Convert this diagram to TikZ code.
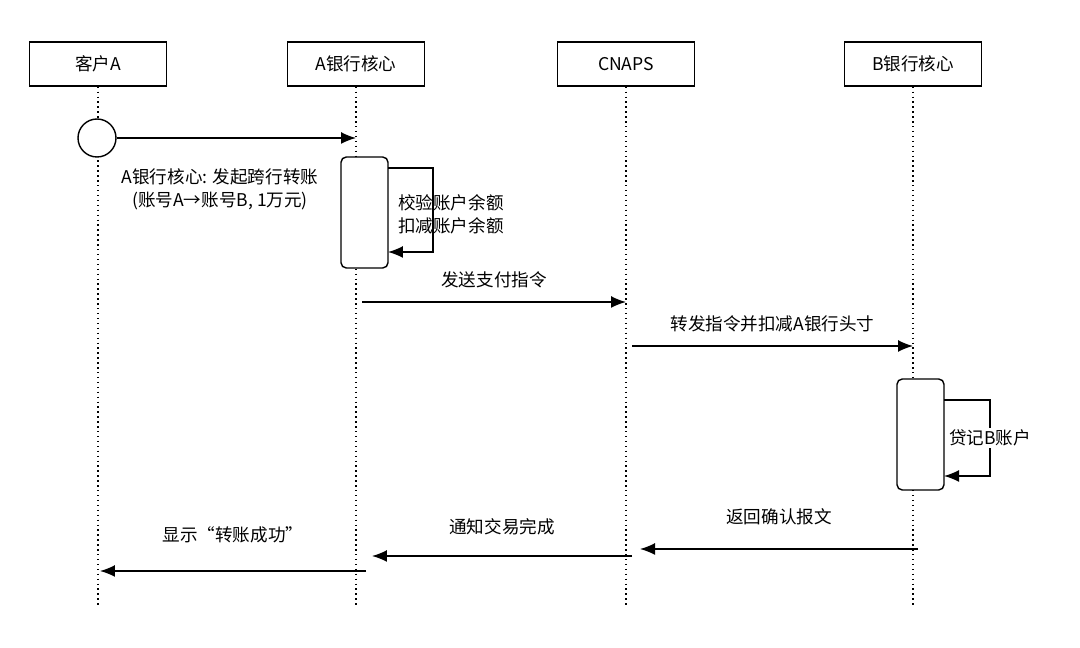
\documentclass[tikz,border=0pt]{standalone}
\usepackage{fontspec}
\setmainfont{Noto Sans CJK SC}
\usetikzlibrary{arrows.meta}

\begin{document}
\begin{tikzpicture}[x=0.02cm,y=-0.02cm,
    font=\fontsize{10}{13}\selectfont,
    head/.style={draw,thick,minimum width=2.74cm,minimum height=0.88cm},
    life/.style={thick,dotted},
    msg/.style={thick,-{Latex[length=3mm,width=2.4mm]}},
    act/.style={draw,thick,fill=white,rounded corners=3pt,minimum width=0.94cm}]
    \useasboundingbox (0,0) rectangle (1080,648);

    % Participants
    \node[head] (ca) at (98,64) {客户A};
    \node[head] (ba) at (356,64) {A银行核心};
    \node[head] (cn) at (626,64) {CNAPS};
    \node[head] (bb) at (913,64) {B银行核心};

    % Lifelines
    \foreach \p/\x in {ca/98,ba/356,cn/626,bb/913}
        \draw[life] (\p.south) -- (\x,605);

    % Start
    \node[draw,thick,fill=white,circle,minimum size=0.76cm] (st) at (97,138) {};
    \coordinate (bin) at (356,138);
    \draw[msg] (st) -- (bin);
    \node[align=center] (lst) at (220,189) {A银行核心: 发起跨行转账\\(账号A→账号B, 1万元)};

    % Activation at A
    \node[act,minimum height=2.22cm] (aa) at (364.5,212.5) {};
    \coordinate (a1) at (388,168);
    \coordinate (a2) at (388,252);
    \draw[msg] (a1) -| (433,252) -- (a2);
    \node[align=left,anchor=west] (lchk) at (392,214) {校验账户余额\\扣减账户余额};

    % Payment order
    \coordinate (p1) at (362,302);
    \coordinate (p2) at (626,302);
    \draw[msg] (p1) -- node[above=4pt] {发送支付指令} (p2);

    \coordinate (f1) at (632,346);
    \coordinate (f2) at (913,346);
    \draw[msg] (f1) -- node[above=4pt] {转发指令并扣减A银行头寸} (f2);

    % Activation at B
    \node[act,minimum height=2.22cm] (ab) at (920.5,434.5) {};
    \coordinate (b1) at (944,400);
    \coordinate (b2) at (944,476);
    \draw[msg] (b1) -| (990,476) -- (b2);
    \node[fill=white,inner sep=1pt] (lcr) at (990,438) {贷记B账户};

    % Returns
    \coordinate (r1) at (918,549);
    \coordinate (r2) at (640,549);
    \draw[msg] (r1) -- node[above=10pt,pos=0.5] {返回确认报文} (r2);
    \coordinate (n1) at (632,556);
    \coordinate (n2) at (372,556);
    \draw[msg] (n1) -- node[above=8pt] {通知交易完成} (n2);
    \coordinate (s1) at (366,571);
    \coordinate (s2) at (100,571);
    \draw[msg] (s1) -- node[above=12pt] {显示“转账成功”} (s2);
\end{tikzpicture}
\end{document}
